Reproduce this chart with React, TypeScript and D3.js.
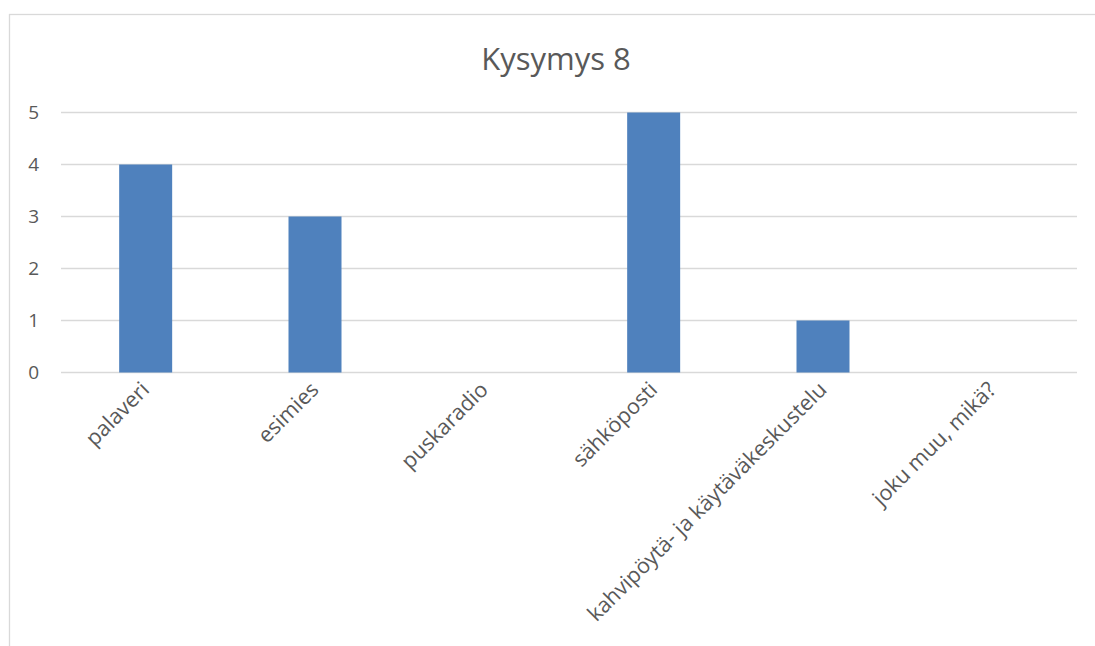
import React from "react";
import * as d3 from "d3";

const categories = ["palaveri", "esimies", "puskaradio", "sähköposti", "kahvipöytä- ja käytäväkeskustelu", "joku muu, mikä?"];
const values = [4, 3, 0, 5, 1, 0];
const yTicks = [0, 1, 2, 3, 4, 5];
const title = "Kysymys 8";

export default function App() {
  const W = 1095, H = 646;
  const left = 61, right = 1077, top = 112.5, bottom = 372.5;
  const x = d3.scaleBand<string>().domain(categories).range([left, right]).paddingInner(0.687).paddingOuter(0.3435);
  const y = d3.scaleLinear().domain([0, 5]).range([bottom, top]);
  const band = (right - left) / categories.length;
  const font = "'Open Sans', sans-serif";
  return (
    <svg width={W} height={H} style={{ position: "absolute", left: 0, top: 0, background: "#fff" }}>
      <rect x={9.5} y={14.5} width={1100} height={700} fill="#fff" stroke="#d9d9d9" strokeWidth={1.3} />
      <text x={556} y={70} textAnchor="middle" fontFamily={font} fontSize={31} fill="#595959">{title}</text>
      {yTicks.map((t) => (
        <g key={t}>
          <line x1={left} x2={right} y1={y(t)} y2={y(t)} stroke="#d9d9d9" strokeWidth={1.3} />
          <text x={39} y={y(t)} dy="0.36em" textAnchor="end" fontFamily={font} fontSize={19} fill="#595959">{t}</text>
        </g>
      ))}
      {categories.map((c, i) => (
        <rect key={c} x={x(c)} y={y(values[i])} width={x.bandwidth()} height={y(0) - y(values[i])} fill="#4f81bd" />
      ))}
      {categories.map((c, i) => {
        const cx = left + band * (i + 0.5) + 5;
        const cy = 391;
        return (
          <text key={c} x={cx} y={cy} textAnchor="end" transform={`rotate(-45 ${cx} ${cy})`} fontFamily={font} fontSize={21.5} fill="#595959">{c}</text>
        );
      })}
    </svg>
  );
}
